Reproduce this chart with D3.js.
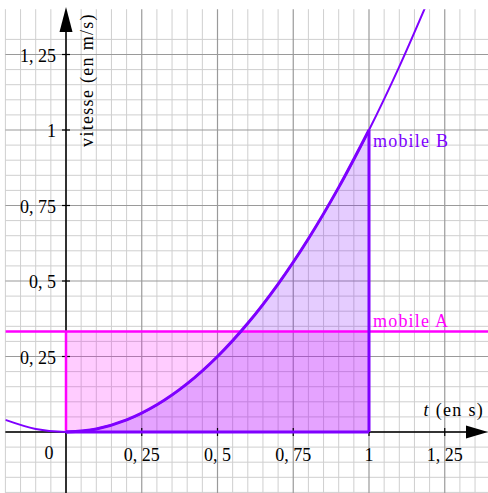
<!DOCTYPE html>
<html>
<head>
<meta charset="utf-8">
<script src="https://cdn.jsdelivr.net/npm/d3@7"></script>
<style>
  html, body { margin: 0; padding: 0; background: #fff; }
  svg { display: block; }
</style>
</head>
<body>
<svg id="chart" width="488" height="493"></svg>
<script>
// Tick positions and their labels (French decimal comma)
const xTicks = [0.25, 0.5, 0.75, 1, 1.25];
const xTickLabels = ["0, 25", "0, 5", "0, 75", "1", "1, 25"];
const yTicks = [0.25, 0.5, 0.75, 1, 1.25];
const yTickLabels = ["0, 25", "0, 5", "0, 75", "1", "1, 25"];

// Speed of mobile B (m/s) at sampled instants t (s)
const tB = [-0.2, -0.1, 0, 0.1, 0.2, 0.3, 0.4, 0.5, 0.6, 0.7, 0.8, 0.9, 1, 1.1, 1.2];
const vB = [0.04, 0.01, 0, 0.01, 0.04, 0.09, 0.16, 0.25, 0.36, 0.49, 0.64, 0.81, 1, 1.21, 1.44];

// Constant speed of mobile A (m/s)
const vA = 0.333;
// Time interval studied (s)
const tStart = 0, tEnd = 1;

const purple = "#7f00ff";
const magenta = "#ff00ff";
const serif = "'Liberation Serif', 'DejaVu Serif', serif";

const svg = d3.select("#chart");
const x = d3.scaleLinear().domain([-0.2, 1.4]).range([5.4, 490.2]);
const y = d3.scaleLinear().domain([-0.2, 1.4]).range([492.4, 9.2]);

// Clip window for the plotted curves
svg.append("defs").append("clipPath").attr("id", "win")
  .append("rect")
  .attr("x", x(-0.2)).attr("y", y(1.4))
  .attr("width", x(1.4) - x(-0.2)).attr("height", y(-0.2) - y(1.4));

// Millimetre-style grid: fine lines every 0.05, stronger every 0.25
const fine = d3.range(-4, 28).map(k => +(k * 0.05).toFixed(2));
const fineY = fine.filter(v => v <= 1.3);
const isMajor = v => Math.abs(v / 0.25 - Math.round(v / 0.25)) < 1e-6;

const grid = svg.append("g");
grid.selectAll("line.v").data(fine.filter(v => !isMajor(v))).join("line")
  .attr("x1", d => x(d)).attr("x2", d => x(d))
  .attr("y1", y(1.4)).attr("y2", 493)
  .attr("stroke", "#cfcfcf").attr("stroke-width", 1);
grid.selectAll("line.h").data(fineY.filter(v => !isMajor(v))).join("line")
  .attr("y1", d => y(d)).attr("y2", d => y(d))
  .attr("x1", x(-0.2)).attr("x2", 488)
  .attr("stroke", "#cfcfcf").attr("stroke-width", 1);
grid.selectAll("line.vm").data(fine.filter(isMajor)).join("line")
  .attr("x1", d => x(d)).attr("x2", d => x(d))
  .attr("y1", y(1.4)).attr("y2", 493)
  .attr("stroke", "#9a9a9a").attr("stroke-width", 1.2);
grid.selectAll("line.hm").data(fineY.filter(isMajor)).join("line")
  .attr("y1", d => y(d)).attr("y2", d => y(d))
  .attr("x1", x(-0.2)).attr("x2", 488)
  .attr("stroke", "#9a9a9a").attr("stroke-width", 1.2);

// Distance covered by mobile A: rectangle under constant speed
svg.append("rect")
  .attr("x", x(tStart)).attr("y", y(vA))
  .attr("width", x(tEnd) - x(tStart)).attr("height", y(0) - y(vA))
  .attr("fill", magenta).attr("fill-opacity", 0.2);

// Distance covered by mobile B: area under its speed curve
const ptsB = tB.map((t, i) => [t, vB[i]]);
const inside = ptsB.filter(p => p[0] >= tStart && p[0] <= tEnd);
svg.append("path")
  .datum(inside)
  .attr("d", d3.area().x(d => x(d[0])).y0(y(0)).y1(d => y(d[1])).curve(d3.curveCatmullRom))
  .attr("fill", purple).attr("fill-opacity", 0.2);

// Axes
const axes = svg.append("g");
axes.append("line")
  .attr("x1", x(-0.2)).attr("x2", 470).attr("y1", y(0)).attr("y2", y(0))
  .attr("stroke", "#000").attr("stroke-width", 1.5);
axes.append("path")
  .attr("d", `M488,${y(0)} L466,${y(0) - 6.5} L466,${y(0) + 6.5} Z`).attr("fill", "#000");
axes.append("line")
  .attr("x1", x(0)).attr("x2", x(0)).attr("y1", 493).attr("y2", 28)
  .attr("stroke", "#000").attr("stroke-width", 1.5);
axes.append("path")
  .attr("d", `M${x(0)},7 L${x(0) - 6.5},32 L${x(0) + 6.5},32 Z`).attr("fill", "#000");

axes.selectAll("line.tx").data(xTicks).join("line")
  .attr("x1", d => x(d)).attr("x2", d => x(d))
  .attr("y1", y(0) - 4).attr("y2", y(0) + 4)
  .attr("stroke", "#000").attr("stroke-width", 1.2);
axes.selectAll("line.ty").data(yTicks).join("line")
  .attr("y1", d => y(d)).attr("y2", d => y(d))
  .attr("x1", x(0) - 4).attr("x2", x(0) + 4)
  .attr("stroke", "#000").attr("stroke-width", 1.2);

axes.selectAll("text.tx").data(xTicks).join("text")
  .attr("x", d => x(d)).attr("y", y(0) + 29)
  .attr("text-anchor", "middle").attr("font-family", serif).attr("font-size", 18)
  .attr("fill", "#000")
  .text((d, i) => xTickLabels[i]);
axes.selectAll("text.ty").data(yTicks).join("text")
  .attr("x", x(0) - 10).attr("y", d => y(d) + 7)
  .attr("text-anchor", "end").attr("font-family", serif).attr("font-size", 18)
  .attr("fill", "#000")
  .text((d, i) => yTickLabels[i]);
axes.append("text")
  .attr("x", 49).attr("y", y(0) + 27)
  .attr("text-anchor", "middle").attr("font-family", serif).attr("font-size", 18)
  .attr("fill", "#000").text("0");

// Axis titles
const xt = axes.append("text")
  .attr("x", 484).attr("y", 416).attr("text-anchor", "end")
  .attr("font-family", serif).attr("font-size", 18).attr("letter-spacing", 1.3)
  .attr("fill", "#000");
xt.append("tspan").attr("font-style", "italic").text("t");
xt.append("tspan").text(" (en s)");
axes.append("text")
  .attr("transform", "translate(93,80) rotate(-90)")
  .attr("text-anchor", "middle").attr("font-family", serif).attr("font-size", 18)
  .attr("letter-spacing", 1.3).attr("fill", "#000")
  .text("vitesse (en m/s)");

// Speed curves and outlines
const plot = svg.append("g").attr("clip-path", "url(#win)");
const line = d3.line().x(d => x(d[0])).y(d => y(d[1])).curve(d3.curveCatmullRom);

// Mobile A: constant speed line and rectangle edge
plot.append("line")
  .attr("x1", x(-0.2)).attr("x2", 488).attr("y1", y(vA)).attr("y2", y(vA))
  .attr("stroke", magenta).attr("stroke-width", 2.5);
plot.append("line")
  .attr("x1", x(tStart)).attr("x2", x(tStart)).attr("y1", y(0)).attr("y2", y(vA))
  .attr("stroke", magenta).attr("stroke-width", 2.5);

// Mobile B: full curve, then the studied interval in bold
plot.append("path").datum(ptsB).attr("d", line)
  .attr("fill", "none").attr("stroke", purple).attr("stroke-width", 2);
plot.append("path").datum(inside).attr("d", line)
  .attr("fill", "none").attr("stroke", purple).attr("stroke-width", 3);
plot.append("line")
  .attr("x1", x(tStart)).attr("x2", x(tEnd)).attr("y1", y(0)).attr("y2", y(0))
  .attr("stroke", purple).attr("stroke-width", 3);
plot.append("line")
  .attr("x1", x(tEnd)).attr("x2", x(tEnd)).attr("y1", y(0)).attr("y2", y(vB[tB.indexOf(tEnd)]))
  .attr("stroke", purple).attr("stroke-width", 3);

// Series labels
svg.append("text")
  .attr("x", x(tEnd) + 4).attr("y", y(vB[tB.indexOf(tEnd)]) + 17)
  .attr("font-family", serif).attr("font-size", 18).attr("letter-spacing", 1.2)
  .attr("fill", purple).text("mobile B");
svg.append("text")
  .attr("x", x(tEnd) + 4).attr("y", y(vA) - 4)
  .attr("font-family", serif).attr("font-size", 18).attr("letter-spacing", 1.2)
  .attr("fill", magenta).text("mobile A");
</script>
</body>
</html>
